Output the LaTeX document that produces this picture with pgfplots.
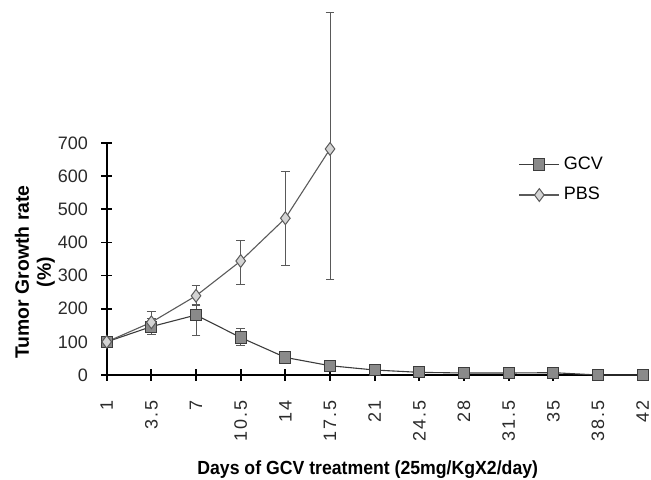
\documentclass[border=0pt]{standalone}
\usepackage{fontspec}
\setmainfont{Liberation Sans}
\usepackage{pgfplots}
\pgfplotsset{compat=1.18}
\definecolor{gcvline}{HTML}{3C3C3C}
\definecolor{gcvfill}{HTML}{8A8A8A}
\definecolor{pbsline}{HTML}{5A5A5A}
\definecolor{pbsfill}{HTML}{D4D4D4}
\definecolor{ticktext}{HTML}{2A2A2A}

\begin{document}
\begin{tikzpicture}
\begin{axis}[
    at={(53.35pt,52.5pt)}, anchor=south west,
    scale only axis, width=268pt, height=116pt,
    xmin=0, xmax=12, ymin=0, ymax=700,
    axis x line=bottom, axis y line=left,
    axis line style={-, line width=1pt, black},
    xtick={0,...,12},
    xticklabels={1,3.5,7,10.5,14,17.5,21,24.5,28,31.5,35,38.5,42},
    ytick={0,100,...,700},
    /pgf/number format/assume math mode=true,
    tick align=center,
    major tick length=5.5pt,
    tick style={line width=0.9pt, black},
    tick label style={font=\fontsize{9}{10}\selectfont, text=ticktext, inner sep=0pt},
    xticklabel style={rotate=90, anchor=east, font=\fontsize{9}{10}\selectfont\addfontfeatures{LetterSpace=10}},
    xticklabel shift=10pt,
    yticklabel shift=6.5pt,
    clip=false,
    xlabel={\addfontfeatures{FakeStretch=0.93}Days of GCV treatment (25mg/KgX2/day)},
    xlabel style={font=\bfseries\fontsize{9.5}{11}\selectfont, at={(rel axis cs:0.487,-0.409)}, anchor=center},
    ylabel={Tumor Growth rate\\(\%)},
    ylabel style={font=\bfseries\fontsize{9.7}{11}\selectfont, align=center, at={(rel axis cs:-0.134,0.444)}, anchor=center, rotate=0},
    legend style={draw=none, fill=none, at={(rel axis cs:0.768,0.96)}, anchor=north west,
        font=\fontsize{9}{10}\selectfont, row sep=3.5pt, inner sep=0pt},
    legend cell align=left,
    legend image code/.code={\draw[mark repeat=2,mark phase=2,#1] plot coordinates {(0pt,0pt) (10pt,0pt) (20pt,0pt)};},
    error bars/error bar style={line width=0.5pt, color=black!65},
    error bars/error mark options={rotate=90, mark size=2.2pt, line width=0.5pt, color=black!65},
]
\addplot[gcvline, line width=0.55pt, mark=square*, mark size=2.8pt,
    mark options={fill=gcvfill, draw=gcvline, line width=0.5pt},
    error bars/.cd, y dir=both, y explicit]
coordinates {
    (0,100) +- (0,5)
    (1,146) += (0,24) -= (0,25)
    (2,181) += (0,33) -= (0,62)
    (3,113) += (0,28) -= (0,25)
    (4,53)  += (0,17) -= (0,18)
    (5,28)  +- (0,6)
    (6,15)  +- (0,4)
    (7,8)   +- (0,3)
    (8,6)   +- (0,3)
    (9,6)   +- (0,3)
    (10,7)  +- (0,3)
    (11,0)  +- (0,2)
    (12,0)  +- (0,2)
};
\addlegendentry{GCV}
\addplot[pbsline, line width=0.55pt, mark=diamond*, mark size=3.2pt,
    mark options={fill=pbsfill, draw=pbsline, line width=0.5pt},
    error bars/.cd, y dir=both, y explicit]
coordinates {
    (0,100) +- (0,5)
    (1,159) += (0,33) -= (0,38)
    (2,239) += (0,31) -= (0,28)
    (3,344) += (0,63) -= (0,70)
    (4,473) += (0,141) -= (0,143)
    (5,682) += (0,411) -= (0,395)
};
\addlegendentry{PBS}
\end{axis}
\pgfresetboundingbox
\path[use as bounding box] (0,0) rectangle (325.5pt,240pt);
\end{tikzpicture}
\end{document}
